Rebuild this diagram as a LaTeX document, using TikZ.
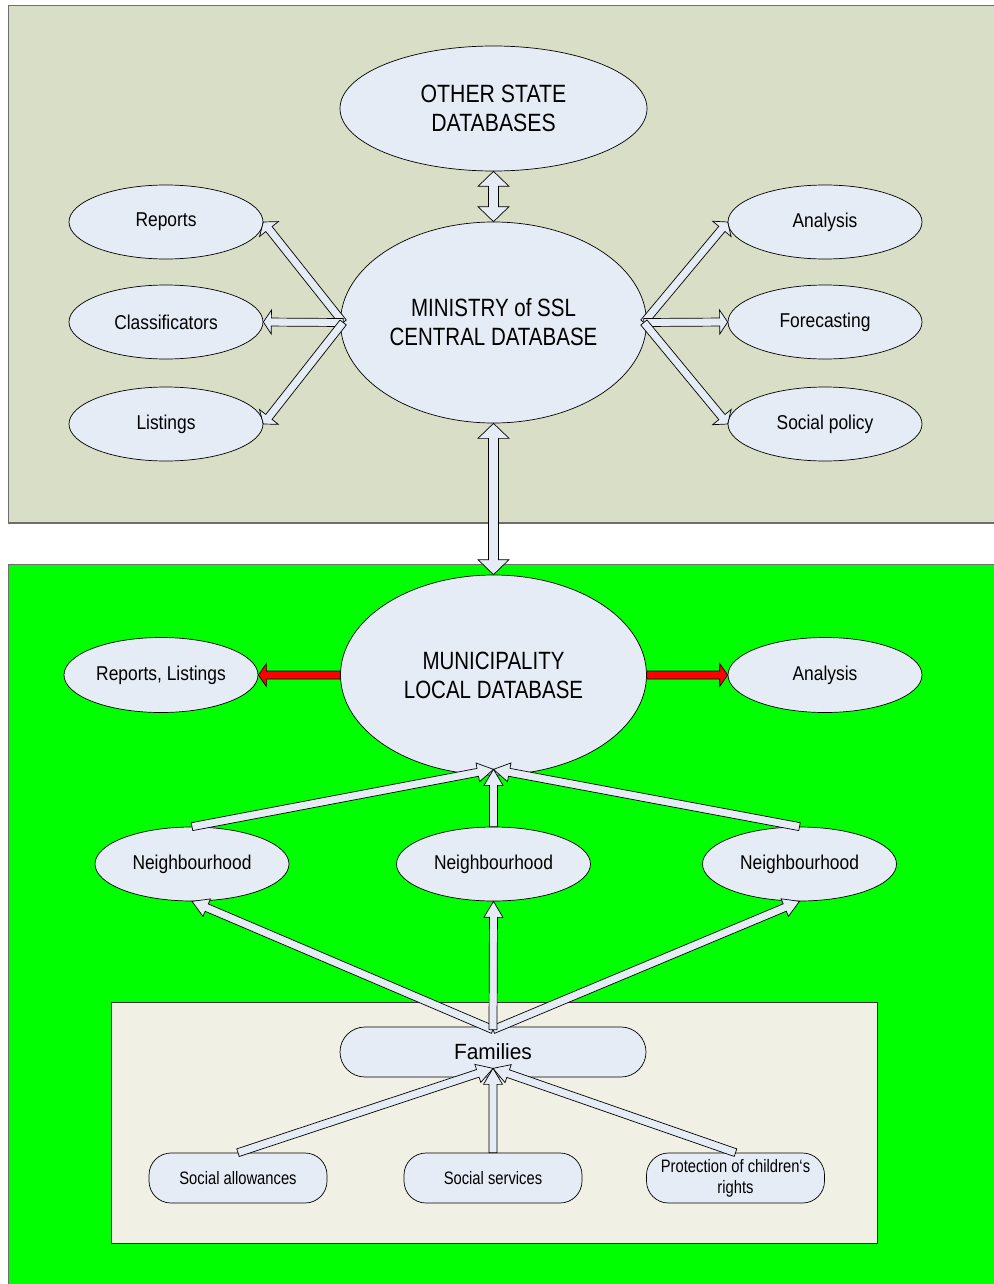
\documentclass[tikz,border=0pt]{standalone}
\usepackage{fontspec}
\setmainfont{Liberation Sans}
\usepackage{graphicx}
\usetikzlibrary{shapes.geometric,calc}
\definecolor{topbg}{HTML}{D9DEC6}
\definecolor{nodebg}{HTML}{E6ECF6}
\definecolor{botbg}{HTML}{F0F0E4}
\definecolor{brdr}{HTML}{6E6E6E}
\definecolor{greenbg}{HTML}{00FF00}
\newcommand{\sx}[2][0.87]{\scalebox{#1}[1]{#2}}
% single-headed block arrow: start, tip, shaft half-width, head half-width, head length, fill
\newcommand{\sarrow}[6]{%
  \coordinate (bac) at ($(#2)!#5!(#1)$);
  \filldraw[fill=#6,draw=black,line width=0.7pt,line join=miter]
    ($(#1)!#3!90:(#2)$) -- ($(bac)!#3!90:(#2)$) -- ($(bac)!#4!90:(#2)$) -- (#2)
    -- ($(bac)!#4!-90:(#2)$) -- ($(bac)!#3!-90:(#2)$) -- ($(#1)!#3!-90:(#2)$) -- cycle;}
% double-headed block arrow
\newcommand{\darrow}[6]{%
  \coordinate (bac) at ($(#2)!#5!(#1)$);
  \coordinate (bad) at ($(#1)!#5!(#2)$);
  \filldraw[fill=#6,draw=black,line width=0.7pt,line join=miter]
    (#1) -- ($(bad)!#4!90:(#2)$) -- ($(bad)!#3!90:(#2)$) -- ($(bac)!#3!90:(#2)$)
    -- ($(bac)!#4!90:(#2)$) -- (#2) -- ($(bac)!#4!-90:(#2)$) -- ($(bac)!#3!-90:(#2)$)
    -- ($(bad)!#3!-90:(#2)$) -- ($(bad)!#4!-90:(#2)$) -- cycle;}
\begin{document}
\begin{tikzpicture}[x=1pt,y=-1pt,
  ell/.style={ellipse,draw=black,line width=0.7pt,fill=nodebg,inner sep=0pt,
    minimum width=194pt,minimum height=74pt,font=\fontsize{20}{24}\selectfont,align=center},
  bigell/.style={ell,minimum width=306pt,minimum height=200pt,font=\fontsize{25}{29}\selectfont},
  rbox/.style={rectangle,draw=black,line width=0.7pt,fill=nodebg,inner sep=0pt,
    minimum width=178pt,minimum height=50pt,rounded corners=22pt,
    font=\fontsize{18}{21}\selectfont,align=center},
  panel/.style={draw=brdr,line width=1pt}]
\useasboundingbox (0,0) rectangle (993,1284);
\fill[white] (0,0) rectangle (993,1284);
% panels
\filldraw[panel,fill=topbg] (8,6) rectangle (1000,523);
\draw[brdr,line width=2pt] (8,523) -- (1000,523);
\filldraw[panel,fill=greenbg] (8,564) rectangle (1000,1290);
\filldraw[draw=black!80,line width=1pt,fill=botbg] (111,1002) rectangle (877,1243);
% top panel nodes
\node[bigell,minimum width=307pt,minimum height=125pt] (osd) at (493.5,108.5)
  {\sx[0.85]{OTHER STATE}\\\sx[0.85]{DATABASES}};
\node[bigell,minimum height=201pt] (min) at (493.5,322.5)
  {\sx[0.82]{MINISTRY of SSL}\\\sx[0.82]{CENTRAL DATABASE}};
\node[ell] (rep) at (166,222) {\sx{Reports}};
\node[ell] (cls) at (166,322) {\sx{Classificators}};
\node[ell] (lst) at (166,424) {\sx{Listings}};
\node[ell] (ana) at (825,222) {\sx{Analysis}};
\node[ell] (frc) at (825,322) {\sx{Forecasting}};
\node[ell] (spo) at (825,424) {\sx{Social policy}};
% lower panel nodes
\node[bigell] (mun) at (493.5,675)
  {\sx[0.82]{MUNICIPALITY}\\\sx[0.82]{LOCAL DATABASE}};
\node[ell,minimum height=75pt] (rl) at (161,675) {\sx{Reports, Listings}};
\node[ell,minimum height=75pt] (anb) at (825,675) {\sx{Analysis}};
\node[ell] (n1) at (192,864) {\sx{Neighbourhood}};
\node[ell] (n2) at (493.5,864) {\sx{Neighbourhood}};
\node[ell] (n3) at (799.5,864) {\sx{Neighbourhood}};
\node[rbox,minimum width=306pt,rounded corners=25pt,font=\fontsize{22}{26}\selectfont] (fam) at (493,1052) {\sx[0.95]{Families}};
\node[rbox] (sa) at (238,1178) {\sx[0.82]{Social allowances}};
\node[rbox] (ss) at (493,1178) {\sx[0.82]{Social services}};
\node[rbox] (pcr) at (735.5,1178) {\sx[0.82]{Protection of children‘s}\\\sx[0.82]{rights}};
% helper coordinates
\coordinate (minL) at ($(min.west)+(3,0)$);
\coordinate (minR) at ($(min.east)+(-3,0)$);
\coordinate (munT) at ($(mun.south)+(0,-6)$);
\coordinate (famT) at ($(fam.south)+(0,-9)$);
\coordinate (famB) at ($(fam.north)+(0,3)$);
% arrows, top panel
\darrow{osd.south}{min.north}{5pt}{15.5pt}{15pt}{nodebg}
\darrow{min.south}{mun.north}{5pt}{15.5pt}{15pt}{nodebg}
\sarrow{minL}{rep.east}{4pt}{12pt}{9pt}{nodebg}
\sarrow{minL}{cls.east}{4pt}{12pt}{8pt}{nodebg}
\sarrow{minL}{lst.east}{4pt}{12pt}{9pt}{nodebg}
\sarrow{minR}{ana.west}{4pt}{12pt}{9pt}{nodebg}
\sarrow{minR}{frc.west}{4pt}{12pt}{8pt}{nodebg}
\sarrow{minR}{spo.west}{4pt}{12pt}{9pt}{nodebg}
% red arrows
\sarrow{mun.west}{rl.east}{4pt}{11.5pt}{8pt}{red}
\sarrow{mun.east}{anb.west}{4pt}{11.5pt}{8pt}{red}
% neighbourhoods to municipality
\sarrow{n1.north}{munT}{4pt}{9.5pt}{16pt}{nodebg}
\sarrow{n3.north}{munT}{4pt}{9.5pt}{16pt}{nodebg}
\sarrow{n2.north}{munT}{4pt}{9.5pt}{16pt}{nodebg}
% families to neighbourhoods
\sarrow{famB}{n1.south}{4pt}{9.5pt}{16pt}{nodebg}
\sarrow{famB}{n3.south}{4pt}{9.5pt}{16pt}{nodebg}
\sarrow{famB}{n2.south}{4pt}{9.5pt}{16pt}{nodebg}
% services to families
\sarrow{sa.north}{famT}{4pt}{9.5pt}{16pt}{nodebg}
\sarrow{pcr.north}{famT}{4pt}{9.5pt}{16pt}{nodebg}
\sarrow{ss.north}{famT}{4pt}{9.5pt}{16pt}{nodebg}
\end{tikzpicture}
\end{document}
